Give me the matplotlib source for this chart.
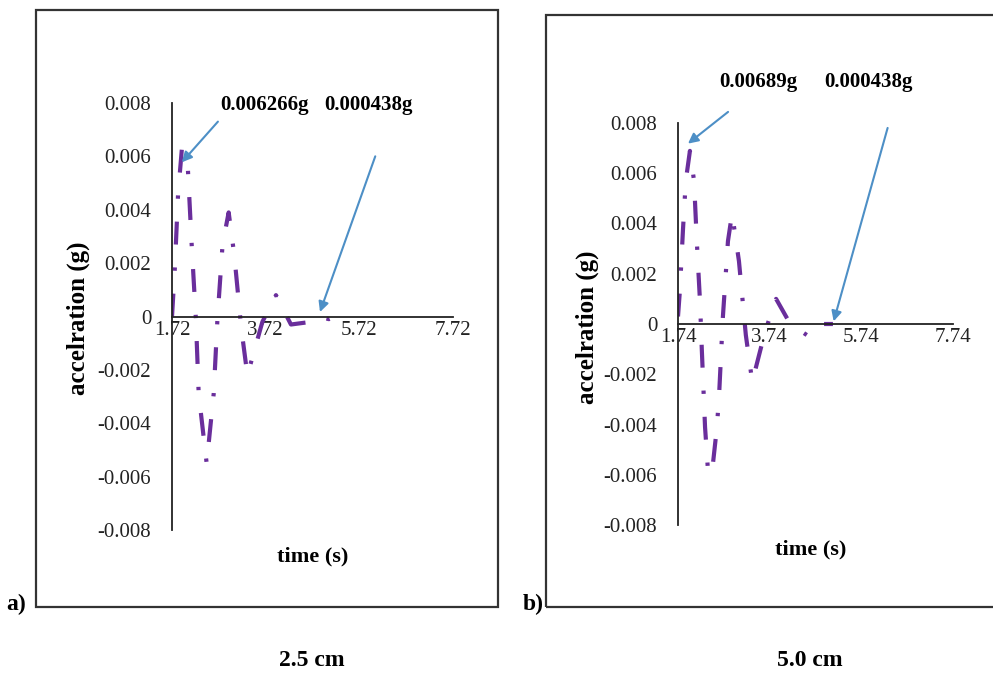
import matplotlib
matplotlib.use("Agg")
import matplotlib.pyplot as plt
from matplotlib.patches import Rectangle

# panel a) 2.5 cm
time_a = [1.72, 1.78, 1.85, 1.93, 2.06, 2.14, 2.23, 2.29, 2.46, 2.61, 2.69, 2.80,
          2.93, 3.05, 3.20, 3.33, 3.65, 3.94, 4.26, 4.69, 4.86, 5.07, 5.28, 5.43]
acc_a = [0.0, 0.0018, 0.0046, 0.006266, 0.0055, 0.0027, -0.0001, -0.0029, -0.0055,
         -0.0029, -0.0001, 0.0027, 0.0039, 0.0023, -0.00045, -0.0022, -0.0002, 0.0008,
         -0.0003, -0.0002, 0.0, -0.0001, 0.00004, 0.0]
xticks_a = [1.72, 3.72, 5.72, 7.72]

# panel b) 5.0 cm
time_b = [1.74, 1.78, 1.85, 1.91, 2.00, 2.09, 2.15, 2.22, 2.26, 2.33, 2.40, 2.50,
          2.59, 2.64, 2.72, 2.83, 2.92, 3.07, 3.22, 3.36, 3.64, 3.88, 4.19, 4.60,
          4.88, 5.12]
acc_b = [0.0003, 0.0013, 0.0038, 0.0057, 0.00689, 0.0057, 0.0033, 0.0009, -0.00104,
         -0.0041, -0.0060, -0.0056, -0.0041, -0.0027, 0.0003, 0.0033, 0.0044, 0.0025,
         -0.00044, -0.0023, -0.0003, 0.0010, 0.0, -0.0005, 0.0, 0.0]
xticks_b = [1.74, 3.74, 5.74, 7.74]

yticks = [-0.008, -0.006, -0.004, -0.002, 0, 0.002, 0.004, 0.006, 0.008]
ytick_labels = ['-0.008', '-0.006', '-0.004', '-0.002', '0', '0.002', '0.004', '0.006', '0.008']

W, H = 993, 680
plt.rcParams['font.family'] = ['Liberation Serif', 'DejaVu Serif']

fig = plt.figure(figsize=(W / 100, H / 100), dpi=100)


def fx(x):
    return x / W


def fy(y):
    return 1 - y / H


line_color = '#6A2E9C'
arrow_color = '#4D8FC6'
dash = (0, (5.5, 5.5, 0.8, 5.5))


def setup(ax, xticks):
    ax.set_xlim(xticks[0], xticks[-1])
    ax.set_ylim(-0.008, 0.008)
    for s in ['top', 'right']:
        ax.spines[s].set_visible(False)
    ax.spines['bottom'].set_position(('data', 0))
    for s in ['left', 'bottom']:
        ax.spines[s].set_color('#222222')
        ax.spines[s].set_linewidth(1.3)
    ax.set_xticks(xticks)
    ax.set_xticklabels([f'{v:.2f}' for v in xticks])
    ax.set_yticks(yticks)
    ax.set_yticklabels(ytick_labels)
    ax.tick_params(axis='x', length=0, pad=3, labelsize=15, colors='#222222')
    ax.tick_params(axis='y', length=0, pad=15, labelsize=15, colors='#222222')
    ax.patch.set_alpha(0)


# frames round the two panels
fig.patches.append(Rectangle((fx(36), fy(607)), fx(498 - 36), (607 - 10) / H,
                             transform=fig.transFigure, fill=False,
                             edgecolor='#333333', linewidth=1.6))
fig.patches.append(Rectangle((fx(546), fy(607)), fx(1000 - 546), (607 - 15) / H,
                             transform=fig.transFigure, fill=False,
                             edgecolor='#333333', linewidth=1.6))

# panel a
ax1 = fig.add_axes([fx(172), fy(530), fx(453 - 172), (530 - 103) / H])
setup(ax1, xticks_a)
ax1.plot(time_a, acc_a, color=line_color, linewidth=3, linestyle=dash)
ax1.text(3.69, 0.00794, '0.006266g', fontsize=15, fontweight='bold', ha='center', va='center')
ax1.text(5.91, 0.00794, '0.000438g', fontsize=15, fontweight='bold', ha='center', va='center')
ax1.annotate('', xy=(1.89, 0.0057), xytext=(2.74, 0.00738), annotation_clip=False,
             arrowprops=dict(arrowstyle='-|>,head_length=0.6,head_width=0.3', color=arrow_color, lw=1.5))
ax1.annotate('', xy=(4.86, 0.00007), xytext=(6.08, 0.0061), annotation_clip=False,
             arrowprops=dict(arrowstyle='-|>,head_length=0.6,head_width=0.3', color=arrow_color, lw=1.5))

# panel b
ax2 = fig.add_axes([fx(678), fy(525), fx(953 - 678), (525 - 123) / H])
setup(ax2, xticks_b)
ax2.plot(time_b, acc_b, color=line_color, linewidth=3, linestyle=dash)
ax2.text(3.49, 0.00964, '0.00689g', fontsize=15, fontweight='bold', ha='center', va='center')
ax2.text(5.89, 0.00964, '0.000438g', fontsize=15, fontweight='bold', ha='center', va='center')
ax2.annotate('', xy=(1.91, 0.00711), xytext=(2.88, 0.00851), annotation_clip=False,
             arrowprops=dict(arrowstyle='-|>,head_length=0.6,head_width=0.3', color=arrow_color, lw=1.5))
ax2.annotate('', xy=(5.12, 0.0), xytext=(6.33, 0.00791), annotation_clip=False,
             arrowprops=dict(arrowstyle='-|>,head_length=0.6,head_width=0.3', color=arrow_color, lw=1.5))

# axis titles and captions
fig.text(fx(78), fy(318), 'accelration (g)', rotation=90, fontsize=18, fontweight='bold',
         ha='center', va='center')
fig.text(fx(587), fy(327), 'accelration (g)', rotation=90, fontsize=18, fontweight='bold',
         ha='center', va='center')
fig.text(fx(313), fy(556), 'time (s)', fontsize=16, fontweight='bold', ha='center', va='center')
fig.text(fx(811), fy(549), 'time (s)', fontsize=16, fontweight='bold', ha='center', va='center')
fig.text(fx(16), fy(604), 'a)', fontsize=17, fontweight='bold', ha='center', va='center')
fig.text(fx(533), fy(604), 'b)', fontsize=17, fontweight='bold', ha='center', va='center')
fig.text(fx(312), fy(661), '2.5 cm', fontsize=17, fontweight='bold', ha='center', va='center')
fig.text(fx(810), fy(661), '5.0 cm', fontsize=17, fontweight='bold', ha='center', va='center')

fig.savefig('out.png', dpi=100)
